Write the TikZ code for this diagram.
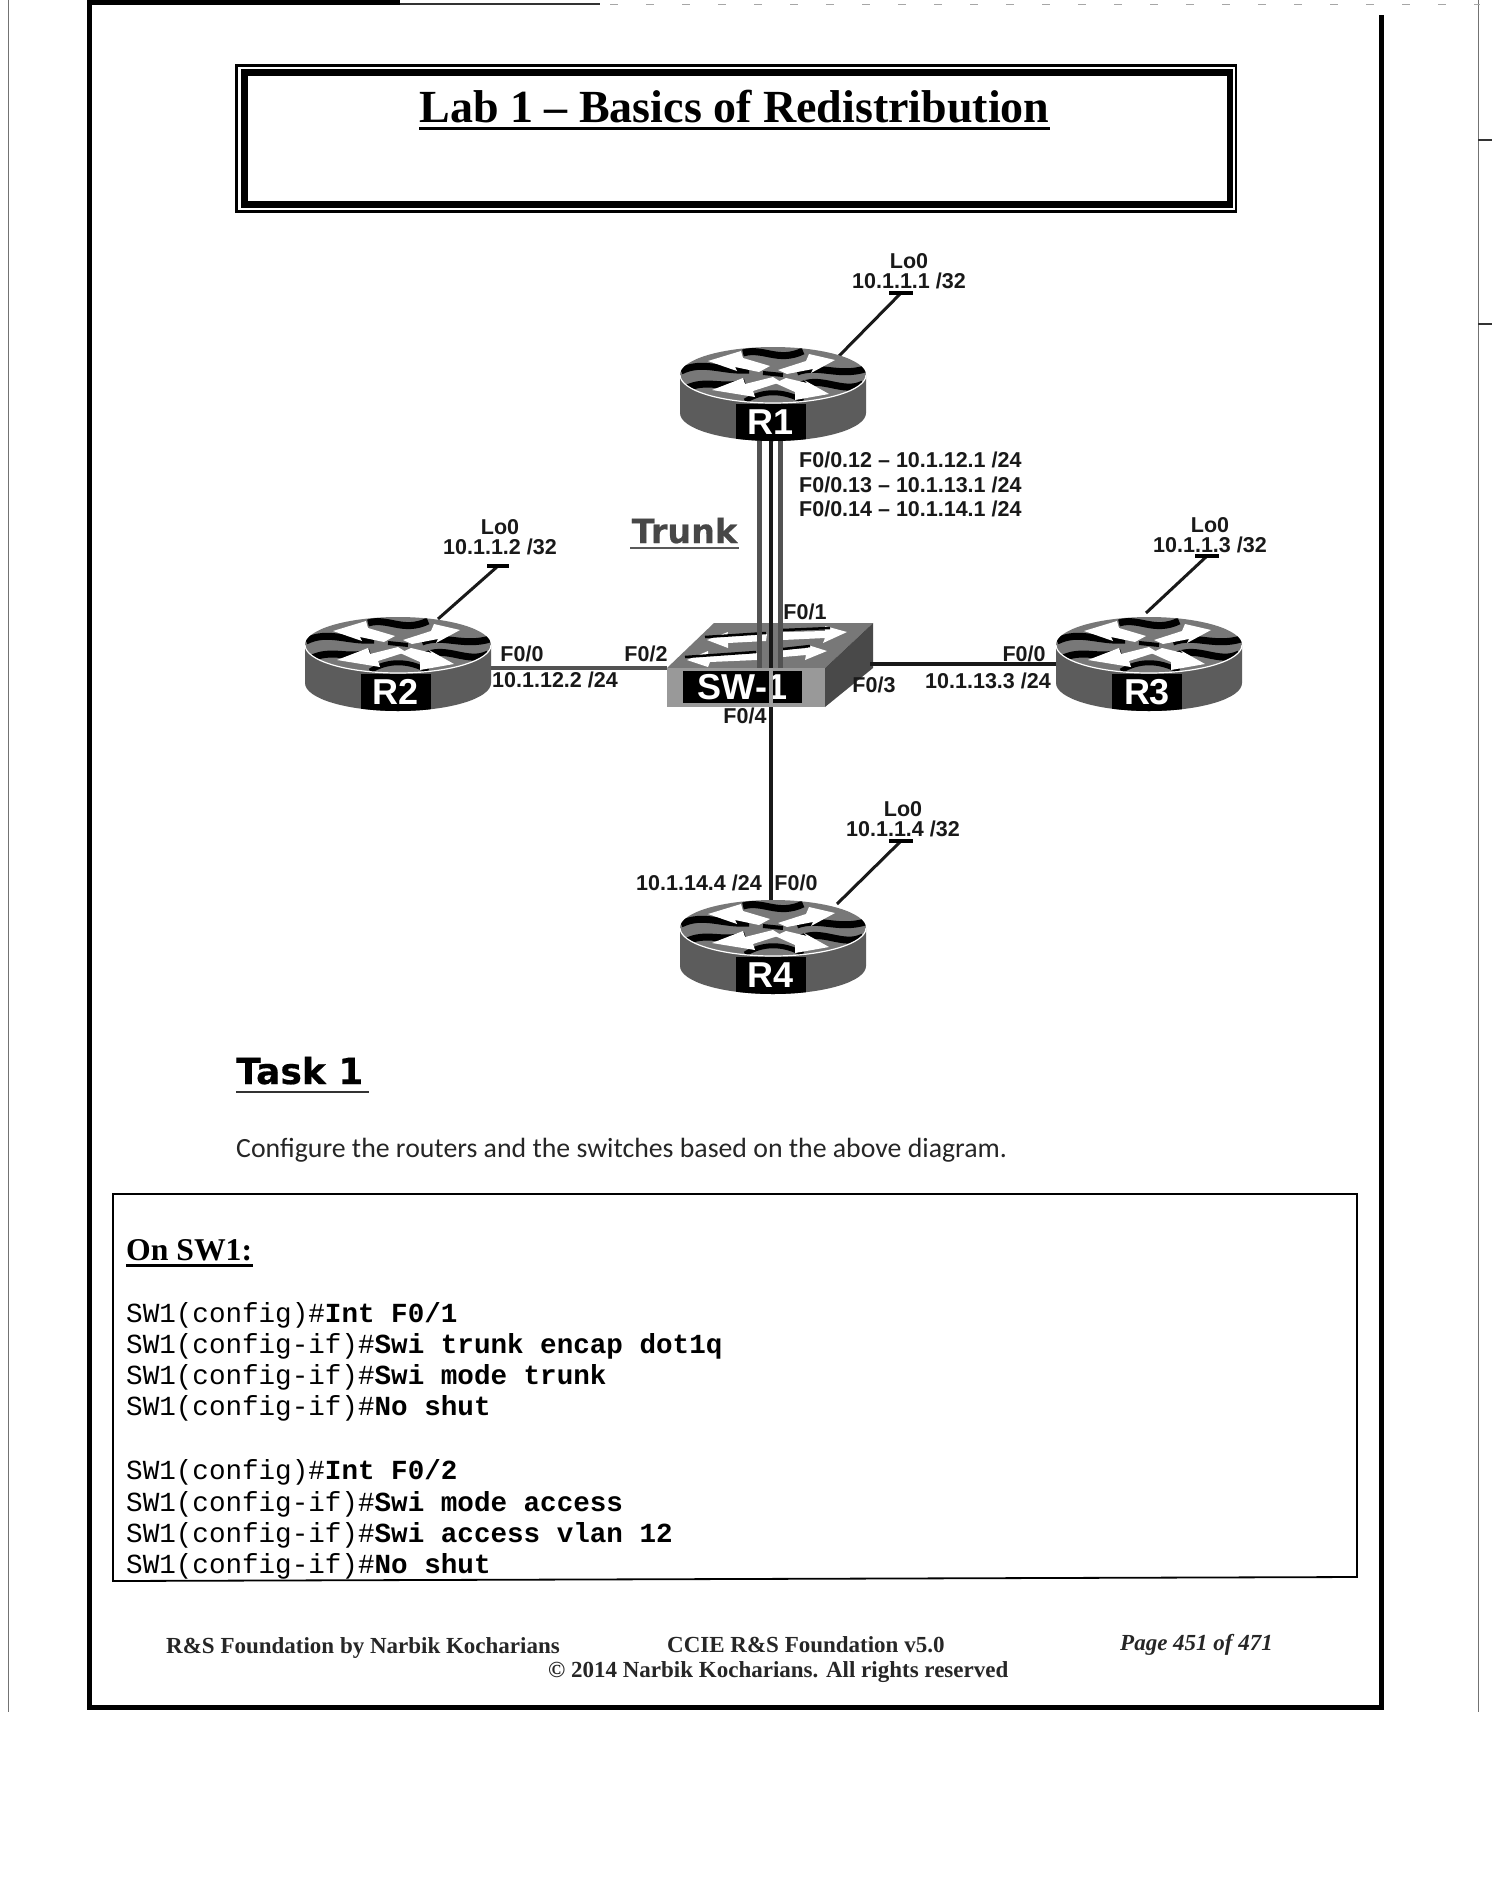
\documentclass[tikz,border=0pt]{standalone}
\usepackage{fontspec}
\setmainfont{Liberation Serif}
\newfontfamily\arialf{Liberation Sans}
\newfontfamily\heavyf[BoldFeatures={FakeBold=0.5}]{DejaVu Sans}
\newfontfamily\carlitof{Carlito}
\newfontfamily\monof{Liberation Mono}
\definecolor{bodygray}{gray}{0.36}
\definecolor{topgray}{gray}{0.47}
\definecolor{linkgray}{gray}{0.32}
\tikzset{
  lab/.style={inner sep=0pt,anchor=base,font=\arialf\bfseries\fontsize{21.5}{21.5}\selectfont,text=black!90},
  labw/.style={lab,anchor=base west},
  rlab/.style={inner sep=0pt,fill=black,text=white,minimum width=70pt,minimum height=38pt,font=\arialf\bfseries\fontsize{36}{36}\selectfont},
  devbox/.style={inner sep=0pt,minimum width=186pt,minimum height=94pt},
  cfg/.style={inner sep=0pt,anchor=base west,font=\monof\fontsize{27.6}{27.6}\selectfont},
  foot/.style={inner sep=0pt,anchor=base west,font=\bfseries\fontsize{23}{23}\selectfont,text=black!85},
  link/.style={line width=4.5pt,color=black!90},
  glink/.style={line width=4.5pt,color=linkgray},
  lo/.style={line width=3pt,color=black!90},
  tick/.style={line width=3.5pt,color=black},
  scan/.style={line width=1pt,color=black!55},
  rule/.style={line width=2.5pt,color=black},
}
\newcommand{\routerdev}[4]{%
\begin{scope}[shift={(#1,#2)}]
  \fill[bodygray] (-93,0) -- (-93,38) arc[start angle=180,end angle=360,x radius=93pt,y radius=28pt] -- (93,0) -- cycle;
  \begin{scope}
    \clip (-93,0) -- (-93,38) arc[start angle=180,end angle=360,x radius=93pt,y radius=28pt] -- (93,0) -- cycle;
    \node[rlab] (#3lbl) at (-2,47.5) {};
  \end{scope}
  \node[inner sep=0pt,text=white,font=\arialf\bfseries\fontsize{36}{36}\selectfont] (#3txt) at (-2,47) {#4};
  \fill[topgray] (0,0) ellipse[x radius=93pt,y radius=28pt];
  \begin{scope}
    \clip (0,0) ellipse[x radius=93pt,y radius=28pt];
    \draw[black,line width=7pt] (-92,-4) .. controls (-70,-15) and (-50,-3) .. (-24,-5);
    \draw[black,line width=7pt] (-88,14) .. controls (-66,3) and (-50,15) .. (-28,7);
    \draw[black,line width=7pt] (-30,-22) .. controls (-10,-28) and (5,-12) .. (30,-24);
    \draw[black,line width=7pt] (24,-3) .. controls (45,-11) and (65,2) .. (92,-6);
    \draw[black,line width=7pt] (28,10) .. controls (50,1) and (70,19) .. (90,9);
    \draw[black,line width=5pt] (-28,26) .. controls (-10,15) and (10,15) .. (30,26);
    \draw[black,line width=4pt] (-10,-2) -- (10,0);
  \end{scope}
  \fill[white] (-65,-14) -- (-32,-24) -- (-30,-17) -- (-3,-9) -- (-14,-3) -- (-38,-8) -- (-36,-4) -- cycle;
  \fill[white] (56,19) -- (22,25) -- (22,17) -- (2,8) -- (13,3) -- (34,8) -- (31,5) -- cycle;
  \fill[white] (62,-15) -- (36,-21) -- (33,-14) -- (5,-5) -- (14,-1) -- (40,-6) -- (38,-2) -- cycle;
  \fill[white] (-61,15) -- (-30,3) -- (-28,9) -- (0,2) -- (8,7) -- (-20,16) -- (-18,22) -- cycle;
  \draw[white,line width=1.2pt] (-93,0) arc[start angle=180,end angle=360,x radius=93pt,y radius=28pt];
\end{scope}}
\begin{document}
\begin{tikzpicture}[x=1pt,y=-1pt]
\useasboundingbox (0,0) rectangle (1492,1896);
\fill[white] (0,0) rectangle (1492,1896);
% page scan edges
\draw[scan] (8,0) -- (8,1712);
\draw[scan] (1478,0) -- (1478,1712);
\draw[line width=2pt,black!80] (1478,140) -- (1492,140);
\draw[line width=2pt,black!80] (1478,324) -- (1492,324);
\draw[line width=1pt,black!35,dash pattern=on 8pt off 28pt] (610,4) -- (1480,4);
% page frame
\draw[line width=5pt] (89,0) -- (89,1707) -- (1381.5,1707) -- (1381.5,15);
\draw[line width=6pt] (87,2) -- (400,2);
\draw[line width=2.5pt,black!80] (400,4) -- (600,4);
% title box
\draw[line width=2.5pt] (236.5,65.5) rectangle (1236,211.5);
\draw[line width=6.5pt] (244.5,72.5) rectangle (1230,204.5);
\node[inner sep=0pt,anchor=base,font=\bfseries\fontsize{46}{46}\selectfont] (title) at (734.5,122) {Lab 1 – Basics of Redistribution};
\draw[rule,line width=3pt] (title.base west |- 0,128) -- (title.base east |- 0,128);
% switch
\fill[topgray] (667,668) -- (714,623) -- (873,623) -- (825,668) -- cycle;
\fill[white] (707,640) -- (728,632) -- (727,636) -- (767,634) -- (766,641) -- (728,643) -- (728,648) -- cycle;
\fill[white] (687,660) -- (708,651) -- (708,655) -- (757,653) -- (757,660) -- (710,662) -- (708,667) -- cycle;
\fill[white] (847,632) -- (825,626) -- (825,631) -- (783,632) -- (783,640) -- (825,638) -- (823,643) -- cycle;
\fill[white] (827,651) -- (808,645) -- (808,648) -- (783,650) -- (783,657) -- (806,655) -- (805,660) -- cycle;
\draw[black,line width=2.5pt] (705,637) -- (766,633);
\draw[black,line width=2.5pt] (685,657) -- (756,652);
\draw[black,line width=2.5pt] (783,630) -- (830,628);
\draw[black,line width=2.5pt] (783,649) -- (810,646);
\fill[bodygray!80!black] (825,668) -- (873,623) -- (873,668) -- (825,707) -- cycle;
\node[inner sep=0pt,fill=gray!80,minimum width=158pt,minimum height=39pt] (SWf) at (746,687.5) {};
\node[inner sep=0pt,fill=black,text=white,minimum width=119pt,minimum height=32pt,font=\arialf\bfseries\fontsize{36}{36}\selectfont] (SW) at (742.5,687) {SW-1};
\coordinate (SWr) at (870,664);
% device anchors
\node[devbox] (R1) at (771,394) {};
\node[devbox] (R2) at (398,664) {};
\node[devbox] (R3) at (1149,664) {};
\node[devbox] (R4) at (771,947) {};
% loopback ends
\coordinate (R1tick) at (901,293);
\coordinate (R2tick) at (498,566);
\coordinate (R3tick) at (1207,556);
\coordinate (R4tick) at (901,841);
\coordinate (R1p) at (838,357);
\coordinate (R2p) at (438,619);
\coordinate (R3p) at (1146,613);
\coordinate (R4p) at (837,904);
% connectors
\draw[glink] ([xshift=-11.5pt]R1.center) -- ([xshift=-11.5pt]R1.center |- SWf.north);
\draw[glink] ([xshift=9.5pt]R1.center) -- ([xshift=9.5pt]R1.center |- SWf.north);
\draw[link] (R1) -- (R4);
\draw[glink,color=gray!75] (R1.center |- SWf.north) -- (R1.center |- SWf.south);
\draw[glink] (R2.center |- SWf.north west) -- (SWf.north west);
\draw[link] (SWr) -- (R3);
\draw[lo] (R1tick) -- (R1p);
\draw[lo] (R2tick) -- (R2p);
\draw[lo] (R3tick) -- (R3p);
\draw[lo] (R4tick) -- (R4p);
\draw[tick] ([xshift=-12pt]R1tick) -- ([xshift=12pt]R1tick);
\draw[tick] ([xshift=-11pt]R2tick) -- ([xshift=11pt]R2tick);
\draw[tick] ([xshift=-12pt]R3tick) -- ([xshift=12pt]R3tick);
\draw[tick] ([xshift=-12pt]R4tick) -- ([xshift=12pt]R4tick);
% routers
\routerdev{773}{375}{R1v}{R1}
\routerdev{398}{645}{R2v}{R2}
\routerdev{1149}{645}{R3v}{R3}
\routerdev{773}{928}{R4v}{R4}
% labels
\node[lab] (l1a) at (909,268) {Lo0};
\node[lab] (l1b) at (909,288) {10.1.1.1 /32};
\node[lab] (l2a) at (500,534) {Lo0};
\node[lab] (l2b) at (500,554) {10.1.1.2 /32};
\node[lab] (l3a) at (1210,532) {Lo0};
\node[lab] (l3b) at (1210,552) {10.1.1.3 /32};
\node[lab] (l4a) at (903,816) {Lo0};
\node[lab] (l4b) at (903,836) {10.1.1.4 /32};
\node[labw] (s12) at (799,467) {F0/0.12 – 10.1.12.1 /24};
\node[labw] (s13) at (799,492) {F0/0.13 – 10.1.13.1 /24};
\node[labw] (s14) at (799,516) {F0/0.14 – 10.1.14.1 /24};
\node[lab] (p20) at (522,661) {F0/0};
\node[lab] (a2) at (555,687) {10.1.12.2 /24};
\node[lab] (p2) at (646,661) {F0/2};
\node[lab] (p1) at (805,619) {F0/1};
\node[lab] (p3) at (874,692) {F0/3};
\node[lab] (p4) at (745,723) {F0/4};
\node[lab] (p30) at (1024,661) {F0/0};
\node[lab] (a3) at (988,688) {10.1.13.3 /24};
\node[lab] (a4) at (699,890) {10.1.14.4 /24};
\node[lab] (p40) at (796,890) {F0/0};
% Trunk
\node[inner sep=0pt,anchor=base,text=black!72,font=\heavyf\bfseries\fontsize{33.4}{33.4}\selectfont] (trunk) at (684.5,543) {Trunk};
\draw[rule,black!65] (630,548) -- (739,548);
% Task
\node[inner sep=0pt,anchor=base west,font=\heavyf\bfseries\fontsize{36}{36}\selectfont] (task) at (236,1084) {Task 1};
\draw[rule,black!80] (236,1092) -- (369,1092);
\node[inner sep=0pt,anchor=base west,font=\carlitof\fontsize{27.8}{27.8}\selectfont,text=black!85] (conf) at (236,1157) {Configure the routers and the switches based on the above diagram.};
% config box
\draw[line width=1.8pt] (113,1194) -- (1357,1194) -- (1357,1577) -- (113,1581) -- cycle;
\node[inner sep=0pt,anchor=base west,font=\bfseries\fontsize{31.7}{31.7}\selectfont] (on) at (126,1260) {On SW1:};
\draw[rule] (126,1265.5) -- (253,1265.5);
\node[cfg] (c1) at (126,1322) {SW1(config)\#\textbf{Int F0/1}};
\node[cfg] (c2) at (126,1353) {SW1(config-if)\#\textbf{Swi trunk encap dot1q}};
\node[cfg] (c3) at (126,1384) {SW1(config-if)\#\textbf{Swi mode trunk}};
\node[cfg] (c4) at (126,1415) {SW1(config-if)\#\textbf{No shut}};
\node[cfg] (c5) at (126,1479) {SW1(config)\#\textbf{Int F0/2}};
\node[cfg] (c6) at (126,1511) {SW1(config-if)\#\textbf{Swi mode access}};
\node[cfg] (c7) at (126,1542) {SW1(config-if)\#\textbf{Swi access vlan 12}};
\node[cfg] (c8) at (126,1573) {SW1(config-if)\#\textbf{No shut}};
% footer
\node[foot] (f1) at (166,1653) {R\&S Foundation by Narbik Kocharians};
\node[foot] (f2) at (667,1652) {CCIE R\&S Foundation v5.0};
\node[foot,font=\bfseries\itshape\fontsize{23}{23}\selectfont] (f3) at (1120,1650) {Page 451 of 471};
\node[foot] (f4) at (548,1677) {© 2014 Narbik Kocharians. All rights reserved};
\end{tikzpicture}
\end{document}
